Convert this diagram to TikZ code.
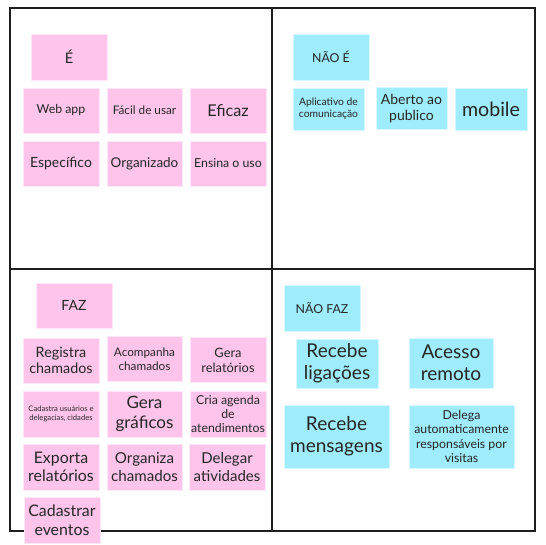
\documentclass[tikz,border=0pt]{standalone}
\usepackage{fontspec}
\setmainfont{Lato}
\definecolor{pinknote}{RGB}{255,196,234}
\definecolor{cyannote}{RGB}{158,236,252}
\definecolor{gridline}{RGB}{30,30,30}
\newcommand\myfsz[1]{\fontsize{\fpeval{1.12*#1}}{\fpeval{1.3*#1}}\selectfont}
\begin{document}
\begin{tikzpicture}[x=1pt,y=-1pt,
  note/.style={inner sep=1pt, align=center, text=black!85, draw=white!60!#1, line width=0.6pt, fill=#1},
  pk/.style={note=pinknote},
  cy/.style={note=cyannote},
  sz/.style 2 args={minimum width=#1pt, minimum height=#2pt},
  fs/.style={font=\myfsz{#1}},
  grid/.style={draw=gridline, line width=1.3pt}]
\useasboundingbox[fill=white] (0,0) rectangle (546,544);
% quadrant frame
\coordinate (tl) at (10,8);
\coordinate (br) at (535,531);
\coordinate (mt) at (272,8);
\coordinate (mb) at (272,531);
\coordinate (ml) at (10,269);
\coordinate (mr) at (535,269);
\draw[grid] (tl) rectangle (br);
\draw[grid] (mt) -- (mb);
\draw[grid] (ml) -- (mr);
% É
\node[pk, sz={76}{46}, fs=13] (e) at (69,57) {É};
\node[pk, sz={76}{45}, fs=11] (webapp) at (61,110.5) {Web app};
\node[pk, sz={75}{45}, fs=10.5] (facil) at (144.5,110.5) {Fácil de usar};
\node[pk, sz={76}{45}, fs=14.5] (eficaz) at (228,110.5) {Eficaz};
\node[pk, sz={76}{45}, fs=12.5] (especifico) at (61,163.5) {Específico};
\node[pk, sz={75}{45}, fs=12] (organizado) at (144.5,163.5) {Organizado};
\node[pk, sz={76}{45}, fs=11] (ensina) at (228,163.5) {Ensina o uso};
% NÃO É
\node[cy, sz={76}{46}, fs=11] (naoe) at (331,57) {NÃO É};
\node[cy, sz={71}{42}, fs=9.2] (aplicativo) at (328.5,109) {Aplicativo de\\comunicação};
\node[cy, sz={71}{42}, fs=12.5] (aberto) at (411.5,108.5) {Aberto ao\\publico};
\node[cy, sz={72}{42}, fs=17.5] (mobile) at (491,109) {mobile};
% FAZ
\node[pk, sz={76}{45}, fs=12.5] (faz) at (74,305.5) {FAZ};
\node[pk, sz={76}{45}, fs=12.8] (registra) at (61,360.5) {Registra\\chamados};
\node[pk, sz={75}{45}, fs=10.5] (acompanha) at (144.5,359) {Acompanha\\chamados};
\node[pk, sz={76}{45}, fs=11.5] (gerarel) at (228,360) {Gera\\relatórios};
\node[pk, sz={76}{46}, fs=6.8] (cadastra) at (61,414) {Cadastra usuários e\\delegacias, cidades};
\node[pk, sz={75}{46}, fs=15.2] (geragraf) at (144.5,414) {Gera\\gráficos};
\node[pk, sz={76}{46}, fs=11] (cria) at (228,414) {Cria agenda\\de\\atendimentos};
\node[pk, sz={76}{46}, fs=14.2] (exporta) at (61,467) {Exporta\\relatórios};
\node[pk, sz={75}{46}, fs=13.5] (organiza) at (144.5,467) {Organiza\\chamados};
\node[pk, sz={76}{46}, fs=13.4] (delegar) at (227,467) {Delegar\\atividades};
\node[pk, sz={76}{46}, fs=14.2] (cadastrar) at (62,520) {Cadastrar\\eventos};
% NÃO FAZ
\node[cy, sz={76}{46}, fs=11] (naofaz) at (322,308) {NÃO FAZ};
\node[cy, sz={82}{49}, fs=17] (ligacoes) at (337,363.5) {Recebe\\ligações};
\node[cy, sz={84}{50}, fs=17] (acesso) at (451,363) {Acesso\\remoto};
\node[cy, sz={105}{63}, fs=17] (mensagens) at (336.5,436.5) {Recebe\\mensagens};
\node[cy, sz={105}{63}, fs=11] (delega) at (461.5,436.5) {Delega\\automaticamente\\responsáveis por\\visitas};
\end{tikzpicture}
\end{document}
